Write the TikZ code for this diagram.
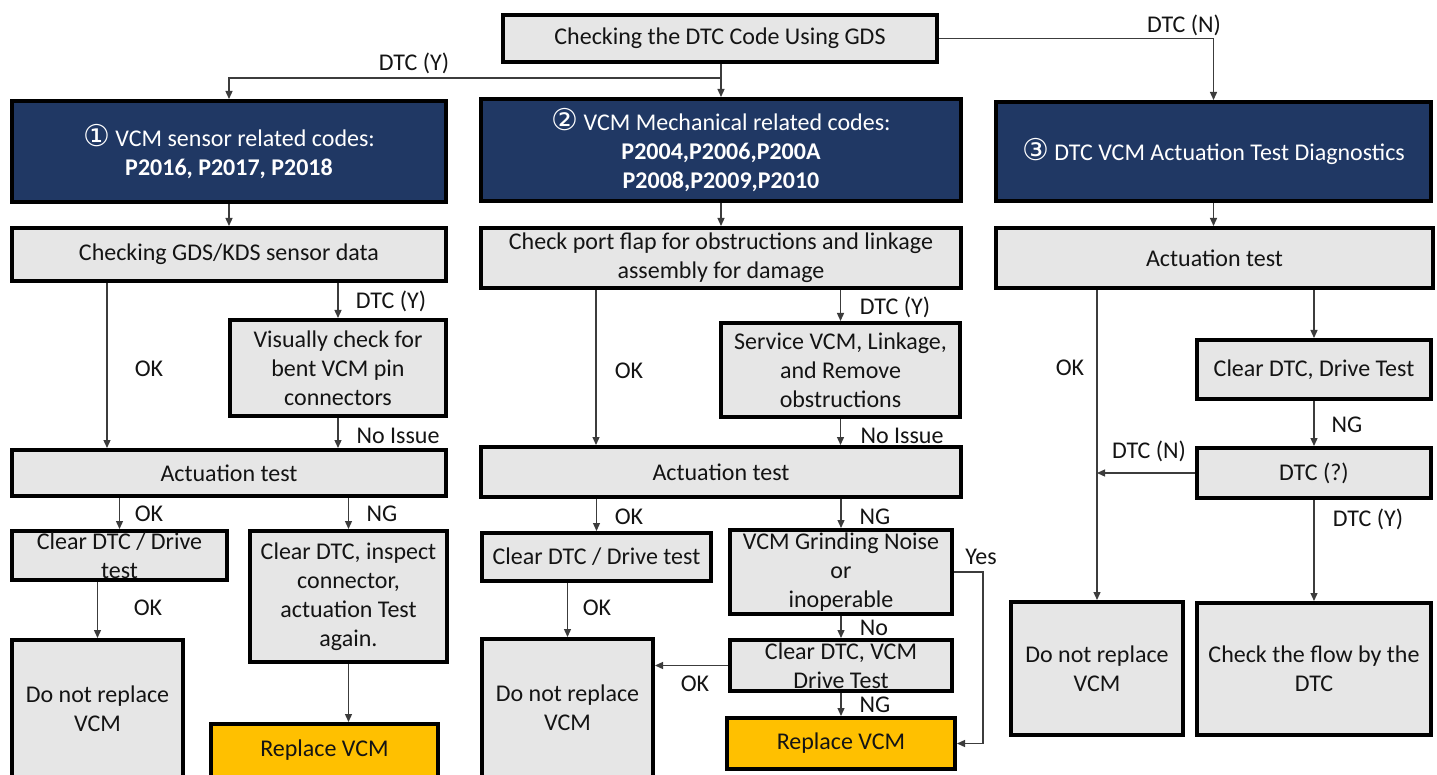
\documentclass[tikz,border=0pt]{standalone}
\usepackage{fontspec}
\setmainfont{Carlito}
\newfontfamily\symfont{DejaVu Sans}
\usetikzlibrary{arrows.meta,calc}
\definecolor{navy}{RGB}{32,56,100}
\definecolor{boxgray}{RGB}{230,230,230}
\definecolor{gold}{RGB}{255,192,0}
\definecolor{txt}{RGB}{20,20,20}
\definecolor{conn}{RGB}{60,60,60}
\newcommand\fs{\fontsize{24}{29}\selectfont}
\newcommand\circnum[1]{{\symfont\fontsize{30}{29}\selectfont #1}}
\newcommand\bx[7]{\node[#6, minimum width={#4-#2-3.6}, minimum height={#5-#3-3.6}] (#1) at ({(#2+#4)/2},{(#3+#5)/2}) {#7};}
\tikzset{
  base/.style={draw=black, line width=3.6pt, align=center, inner sep=1pt, font=\fs},
  gbox/.style={base, fill=boxgray, text=txt},
  nbox/.style={base, fill=navy, text=white},
  ybox/.style={base, fill=gold, text=txt},
  arr/.style={draw=conn, line width=1.3pt, -{Triangle[length=8pt,width=7pt]}},
  lbl/.style={font=\fs, text=txt, inner sep=0pt},
}
\begin{document}
\begin{tikzpicture}[x=1pt,y=-1pt]
\useasboundingbox (0,0) rectangle (1437,775);
\clip (0,0) rectangle (1437,775);
\fill[white] (0,0) rectangle (1437,775);

% top
\bx{top}{501}{13}{939}{64}{gbox}{Checking the DTC Code Using GDS}
% navy headers
\bx{h1}{10}{99}{448}{204}{nbox}{\circnum{①} VCM sensor related codes:\\\textbf{P2016, P2017, P2018}}
\bx{h2}{479}{97}{963}{203}{nbox}{\circnum{②} VCM Mechanical related codes:\\\textbf{P2004,P2006,P200A}\\\textbf{P2008,P2009,P2010}}
\bx{h3}{994}{100}{1433}{203}{nbox}{\circnum{③} DTC VCM Actuation Test Diagnostics}

% left column
\bx{gds}{10}{226}{448}{283}{gbox}{Checking GDS/KDS sensor data}
\bx{vis}{228}{318}{448}{418}{gbox}{Visually check for\\bent VCM pin\\connectors}
\bx{act1}{10}{448}{448}{498}{gbox}{Actuation test}
\bx{clr1}{10}{529}{229}{582}{gbox}{Clear DTC / Drive\\test}
\bx{insp}{248}{529}{449}{664}{gbox}{Clear DTC, inspect\\connector,\\actuation Test\\again.}
\bx{dnr1}{10}{638}{185}{779}{gbox}{Do not replace\\VCM}
\bx{rep1}{209}{722}{440}{779}{ybox}{Replace VCM}

% middle column
\bx{port}{479}{226}{963}{290}{gbox}{Check port flap for obstructions and linkage\\assembly for damage}
\bx{serv}{719}{321}{962}{419}{gbox}{Service VCM, Linkage,\\and Remove\\obstructions}
\bx{act2}{479}{445}{963}{499}{gbox}{Actuation test}
\bx{clr2}{480}{531}{713}{583}{gbox}{Clear DTC / Drive test}
\bx{grind}{728}{528}{954}{616}{gbox}{VCM Grinding Noise\\or\\inoperable}
\bx{dnr2}{480}{637}{655}{779}{gbox}{Do not replace\\VCM}
\bx{cdt}{728}{638}{954}{693}{gbox}{Clear DTC, VCM\\Drive Test}
\bx{rep2}{725}{716}{957}{771}{ybox}{Replace VCM}

% right column
\bx{act3}{994}{226}{1435}{290}{gbox}{Actuation test}
\bx{cdt3}{1195}{338}{1433}{401}{gbox}{Clear DTC, Drive Test}
\bx{dtcq}{1195}{446}{1433}{500}{gbox}{DTC (?)}
\bx{dnr3}{1009}{600}{1185}{737}{gbox}{Do not replace\\VCM}
\bx{flow}{1195}{601}{1433}{737}{gbox}{Check the flow by the\\DTC}

% helper coordinates
\coordinate (br) at (721,78);
\coordinate (xa) at (107,0);
\coordinate (xb) at (596,0);
\coordinate (xy) at (983,0);

% connectors
\draw[arr] (top.south -| br) -- (br) -| (h1.north);
\draw[arr] (br) -- (h2.north -| br);
\draw[arr] (top.east) -| (h3.north);
\draw[arr] (h1.south) -- (gds.north -| h1.south);
\draw[arr] (h2.south) -- (port.north -| h2.south);
\draw[arr] (h3.south) -- (act3.north -| h3.south);

\draw[arr] (gds.south -| xa) -- (act1.north -| xa);
\draw[arr] (gds.south -| vis.north) -- (vis.north);
\draw[arr] (vis.south) -- (act1.north -| vis.south);
\draw[arr] (act1.south -| clr1.north) -- (clr1.north);
\draw[arr] (act1.south -| insp.north) -- (insp.north);
\draw[arr] (clr1.south -| dnr1.north) -- (dnr1.north);
\draw[arr] (insp.south) -- (insp.south |- rep1.north);

\draw[arr] (port.south -| xb) -- (act2.north -| xb);
\draw[arr] (port.south -| serv.north) -- (serv.north);
\draw[arr] (serv.south) -- (act2.north -| serv.south);
\draw[arr] (act2.south -| clr2.north) -- (clr2.north);
\draw[arr] (act2.south -| grind.north) -- (grind.north);
\draw[arr] (clr2.south -| dnr2.north) -- (dnr2.north);
\draw[arr] (grind.south) -- (cdt.north);
\draw[arr] (cdt.west) -- (dnr2.east |- cdt.west);
\draw[arr] (cdt.south) -- (rep2.north);
\draw[arr] (grind.east) -- (grind.east -| xy) |- (rep2.east);

\draw[arr] (act3.south -| dnr3.north) -- (dnr3.north);
\draw[arr] (act3.south -| cdt3.north) -- (cdt3.north);
\draw[arr] (cdt3.south) -- (dtcq.north);
\draw[arr] (dtcq.west) -- (dtcq.west -| dnr3.north);
\draw[arr] (dtcq.south) -- (flow.north);

% labels
\node[lbl] (l1) at (414,63) {DTC (Y)};
\node[lbl] (l2) at (1184,25) {DTC (N)};
\node[lbl] (l3) at (391,301) {DTC (Y)};
\node[lbl] (l4) at (149,369) {OK};
\node[lbl] (l5) at (398,436) {No Issue};
\node[lbl] (l6) at (149,514) {OK};
\node[lbl] (l7) at (382,514) {NG};
\node[lbl] (l8) at (148,608) {OK};
\node[lbl] (m1) at (895,307) {DTC (Y)};
\node[lbl] (m2) at (629,371) {OK};
\node[lbl] (m3) at (902,436) {No Issue};
\node[lbl] (m4) at (629,517) {OK};
\node[lbl] (m5) at (875,517) {NG};
\node[lbl] (m6) at (597,608) {OK};
\node[lbl] (m7) at (874,628) {No};
\node[lbl] (m8) at (695,684) {OK};
\node[lbl] (m9) at (875,705) {NG};
\node[lbl] (m10) at (981,557) {Yes};
\node[lbl] (r1) at (1070,368) {OK};
\node[lbl] (r2) at (1347,425) {NG};
\node[lbl] (r3) at (1149,451) {DTC (N)};
\node[lbl] (r4) at (1368,519) {DTC (Y)};
\end{tikzpicture}
\end{document}
